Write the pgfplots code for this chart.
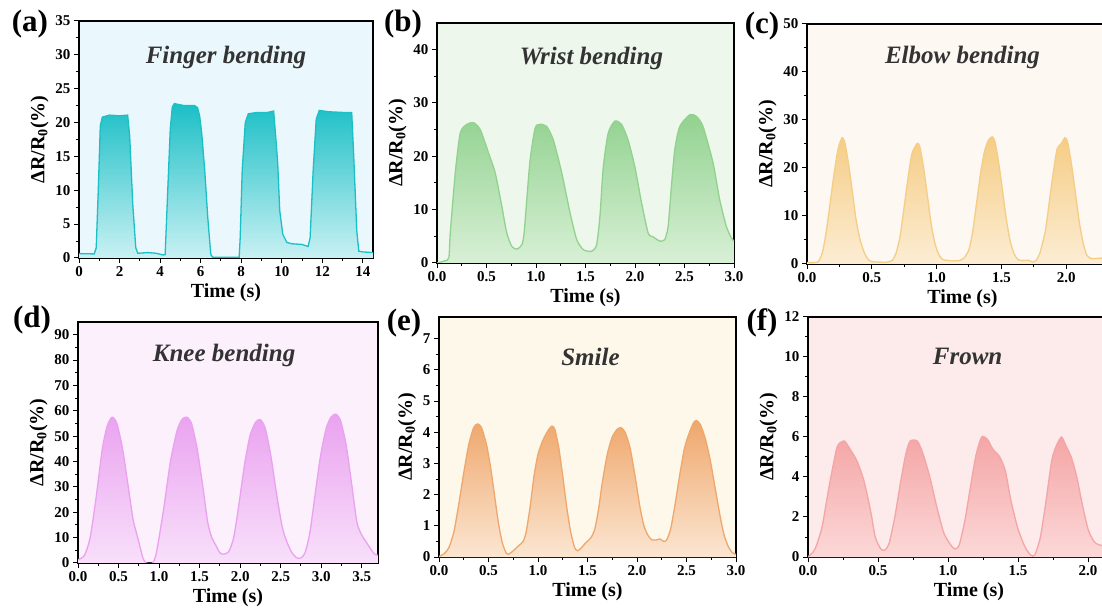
\documentclass[border=0pt]{standalone}
\usepackage{fontspec}
\setmainfont{Liberation Serif}
\usepackage{pgfplots}
\usepackage{pgfplotstable}
\pgfplotsset{compat=1.18}

\definecolor{bgA}{HTML}{EAF7FC}\definecolor{lnA}{HTML}{1BBFC6}\definecolor{fA}{HTML}{C9F1F3}
\definecolor{bgB}{HTML}{EDF7EC}\definecolor{lnB}{HTML}{92D28F}\definecolor{fB}{HTML}{D8F0D6}
\definecolor{bgC}{HTML}{FDF8F2}\definecolor{lnC}{HTML}{F5CD85}\definecolor{fC}{HTML}{FCEDD4}
\definecolor{bgD}{HTML}{FCF0FC}\definecolor{lnD}{HTML}{EAA2F0}\definecolor{fD}{HTML}{F8E0FA}
\definecolor{bgE}{HTML}{FDF8E9}\definecolor{lnE}{HTML}{EFA76C}\definecolor{fE}{HTML}{FBE6D2}
\definecolor{bgF}{HTML}{FDEBEB}\definecolor{lnF}{HTML}{F4A5A5}\definecolor{fF}{HTML}{FCD8D8}
\definecolor{titlegray}{HTML}{333333}

% finger
\pgfplotstableread{
t v
0 0.65
0.75 0.6
0.85 1.5
0.95 10
1.05 19.5
1.15 20.8
1.5 21.1
2.0 21.0
2.4 21.1
2.5 18
2.65 8
2.8 1.5
2.9 0.7
3.4 0.8
3.8 0.7
4.15 0.45
4.25 0.5
4.35 8
4.5 19
4.6 22.3
4.7 22.8
5.2 22.5
5.7 22.5
5.85 22.2
5.95 21.0
6.05 18.5
6.2 13
6.35 6
6.5 0.5
6.6 0.1
7.9 0.1
7.95 3
8.05 13
8.2 20
8.35 21.3
8.8 21.5
9.3 21.5
9.6 21.7
9.7 18
9.8 14
9.9 7
10.05 3.5
10.25 2.3
10.5 2.1
11.0 2.0
11.3 1.7
11.4 3
11.55 13
11.7 20.5
11.85 21.8
12.3 21.6
13.0 21.5
13.45 21.5
13.55 15
13.7 4
13.8 1
14.0 0.9
14.5 0.8
}\dataA

% wrist
\pgfplotstableread{
t v
0 0
0.08 0.4
0.12 1
0.134 5.6
0.185 17
0.235 24.4
0.302 26
0.369 26.3
0.437 25
0.521 20.6
0.588 16.9
0.655 10.6
0.705 5.6
0.756 3.1
0.806 2.6
0.857 3.4
0.880 5.6
0.907 11.9
0.941 19.4
0.991 25.3
1.041 26
1.108 25.6
1.176 23
1.260 16.9
1.344 9.4
1.411 4.4
1.478 2.5
1.562 2.2
1.612 3.4
1.646 8.8
1.680 18.1
1.730 24.4
1.797 26.6
1.864 26
1.931 23
1.999 18
2.066 11.3
2.133 5.6
2.183 4.9
2.251 4.1
2.301 4.4
2.335 6.9
2.368 14.4
2.402 21.3
2.452 25.6
2.553 27.8
2.620 27.5
2.687 25.6
2.788 18.8
2.855 11.9
2.922 6.9
2.973 4.7
3.0 4.1
}\dataB

% elbow
\pgfplotstableread{
t v
0 0.3
0.06 0.3
0.09 0.6
0.12 2.5
0.15 7
0.18 13
0.21 19
0.24 24
0.27 26.3
0.29 25.5
0.32 21
0.35 15
0.38 9
0.41 5
0.44 2.5
0.47 1
0.50 0.5
0.55 0.4
0.62 0.4
0.66 0.8
0.69 2.5
0.72 6
0.75 12
0.78 18
0.81 23
0.85 25.1
0.87 24.5
0.90 20
0.93 14
0.96 8
0.99 4
1.02 1.8
1.05 0.9
1.10 0.7
1.17 0.7
1.21 1.2
1.25 3
1.28 7
1.31 13
1.34 19
1.37 23.5
1.40 25.8
1.43 26.5
1.45 25.5
1.48 21
1.51 15
1.54 9
1.57 4.5
1.60 2
1.63 0.9
1.67 0.7
1.71 0.8
1.74 0.4
1.77 0.8
1.80 2.5
1.84 7
1.87 13
1.90 19
1.93 24
1.96 25
1.99 26.3
2.01 25.5
2.04 21
2.07 15
2.10 9
2.13 4.5
2.16 1.8
2.20 1.1
2.25 1.2
2.35 1.3
}\dataC

% knee
\pgfplotstableread{
t v
0 1.3
0.08 3
0.15 10
0.22 25
0.30 45
0.36 54
0.42 57.5
0.48 55
0.55 45
0.62 30
0.68 17
0.72 12
0.76 7
0.80 2
0.84 0
0.92 0
0.96 3
1.00 10
1.06 22
1.14 40
1.22 52
1.28 56.5
1.34 57.5
1.40 55
1.47 45
1.54 30
1.60 16
1.65 10
1.70 7
1.75 4
1.80 3.5
1.86 4.5
1.92 10
1.98 22
2.05 38
2.12 50
2.19 55.5
2.25 56.5
2.31 53
2.38 42
2.45 27
2.52 14
2.58 8
2.64 4
2.70 2
2.75 2
2.80 4
2.86 12
2.92 26
2.99 42
3.06 53
3.12 57.5
3.18 58.7
3.24 56
3.31 46
3.38 30
3.44 16
3.50 11
3.56 8
3.62 5
3.66 3.5
3.70 3
}\dataD

% smile
\pgfplotstableread{
t v
0 0.02
0.05 0.1
0.10 0.3
0.15 0.8
0.20 1.7
0.25 2.7
0.30 3.6
0.35 4.15
0.39 4.27
0.43 4.15
0.48 3.6
0.52 2.9
0.56 2.0
0.60 1.1
0.64 0.45
0.68 0.12
0.71 0.1
0.75 0.2
0.80 0.35
0.85 0.5
0.88 0.8
0.92 1.6
0.96 2.6
1.00 3.3
1.05 3.75
1.10 4.05
1.14 4.2
1.17 4.1
1.21 3.5
1.25 2.6
1.29 1.6
1.33 0.8
1.37 0.3
1.40 0.2
1.44 0.3
1.48 0.45
1.53 0.6
1.57 0.85
1.61 1.5
1.65 2.4
1.70 3.3
1.75 3.85
1.80 4.1
1.84 4.15
1.88 4.0
1.93 3.5
1.98 2.6
2.03 1.6
2.07 1.0
2.11 0.7
2.15 0.55
2.20 0.55
2.23 0.58
2.27 0.5
2.30 0.55
2.34 0.9
2.38 1.6
2.43 2.6
2.48 3.5
2.53 4.0
2.57 4.3
2.60 4.38
2.64 4.25
2.69 3.8
2.74 3.1
2.79 2.2
2.84 1.3
2.88 0.7
2.92 0.35
2.96 0.15
3.0 0.08
}\dataE

% frown
\pgfplotstableread{
t v
0 0
0.05 0.4
0.10 1.5
0.15 3.5
0.20 5.3
0.22 5.65
0.26 5.8
0.30 5.4
0.35 4.8
0.40 3.8
0.45 2.2
0.48 1.0
0.52 0.4
0.55 0.35
0.58 0.7
0.62 2.0
0.66 3.7
0.70 5.2
0.73 5.8
0.78 5.8
0.82 5.2
0.87 4.0
0.92 2.5
0.97 1.2
1.02 0.6
1.05 0.4
1.08 0.6
1.12 1.8
1.16 3.5
1.20 5.1
1.24 6.0
1.28 5.9
1.32 5.4
1.37 5.0
1.41 4.3
1.45 2.8
1.50 1.4
1.55 0.5
1.59 0.1
1.62 0.1
1.66 1.0
1.70 2.8
1.74 4.8
1.77 5.5
1.81 6.0
1.84 5.6
1.88 5.0
1.92 4.0
1.96 2.6
2.00 1.4
2.04 0.8
2.08 0.6
2.15 0.6
2.30 0.6
}\dataF

\pgfplotsset{
  panel/.style={
    scale only axis, anchor=south west,
    axis line style={line width=1.2pt},
    tick align=outside, xtick pos=bottom, ytick pos=left,
    minor tick num=1,
    major tick length=5pt, minor tick length=3pt,
    tick style={black, line width=1pt},
    tick label style={font=\fontsize{15}{15}\selectfont\bfseries},
    /pgf/number format/assume math mode=true,
    label style={font=\fontsize{20}{20}\selectfont\bfseries},
    xlabel={Time (s)},
    ylabel={ΔR/R\textsubscript{0}(\%)},
    xmin=0, ymin=0,
  },
  dec/.style={xticklabel style={/pgf/number format/.cd,fixed,fixed zerofill,precision=1}},
}
\tikzset{ttl/.style={font=\fontsize{25}{25}\selectfont\bfseries\itshape, text=titlegray}}

% #4: extra plot options (smooth or not)
\newcommand{\curve}[4]{%
  \addplot[draw=none, top color=#2, bottom color=#3, #4] table[x=t,y=v] {#1} \closedcycle;
  \addplot[color=#2, line width=1.3pt, #4] table[x=t,y=v] {#1};
}

\begin{document}
\begin{tikzpicture}[x=1pt,y=1pt]

\begin{axis}[panel, at={(79pt,352pt)}, width=294pt, height=237pt,
  xmax=14.5, ymax=35, xtick={0,2,...,14}, ytick={0,5,...,35},
  axis background/.style={fill=bgA}]
\curve{\dataA}{lnA}{fA}{sharp plot}
\node[ttl] at (rel axis cs:0.5,0.844) {Finger bending};
\end{axis}

\begin{axis}[panel, dec, at={(437pt,347pt)}, width=297pt, height=240pt,
  xmax=3, ymax=45, xtick={0,0.5,...,3}, ytick={0,10,...,40},
  axis background/.style={fill=bgB}]
\curve{\dataB}{lnB}{fB}{smooth, tension=0.4}
\node[ttl] at (rel axis cs:0.52,0.854) {Wrist bending};
\end{axis}

\begin{axis}[panel, dec, at={(807pt,346pt)}, width=311pt, height=240pt,
  xmax=2.4, ymax=50, xtick={0,0.5,...,2.0}, ytick={0,10,...,50},
  axis background/.style={fill=bgC}]
\curve{\dataC}{lnC}{fC}{smooth, tension=0.4}
\node[ttl] at (axis cs:1.2,43) {Elbow bending};
\end{axis}

\begin{axis}[panel, dec, at={(78pt,47pt)}, width=300pt, height=241pt,
  xmax=3.7, ymax=95, xtick={0,0.5,...,3.5}, ytick={0,10,...,90},
  axis background/.style={fill=bgD}]
\curve{\dataD}{lnD}{fD}{smooth, tension=0.4}
\node[ttl] at (rel axis cs:0.487,0.86) {Knee bending};
\end{axis}

\begin{axis}[panel, dec, at={(439pt,53pt)}, width=297pt, height=240pt,
  xmax=3, ymax=7.7, xtick={0,0.5,...,3}, ytick={0,1,...,7},
  axis background/.style={fill=bgE}]
\curve{\dataE}{lnE}{fE}{smooth, tension=0.4}
\node[ttl] at (rel axis cs:0.51,0.833) {Smile};
\end{axis}

\begin{axis}[panel, dec, at={(808pt,53pt)}, width=322pt, height=240pt,
  xmax=2.3, ymax=12, xtick={0,0.5,...,2.0}, ytick={0,2,...,12},
  axis background/.style={fill=bgF}]
\curve{\dataF}{lnF}{fF}{smooth, tension=0.4}
\node[ttl] at (axis cs:1.14,10.05) {Frown};
\end{axis}

\begin{scope}[font=\fontsize{31}{31}\selectfont\bfseries]
\node at (30,586) {(a)};
\node at (403,586) {(b)};
\node at (762,584) {(c)};
\node at (32,290) {(d)};
\node at (404,287) {(e)};
\node at (762,287) {(f)};
\end{scope}

\pgfresetboundingbox
\useasboundingbox (0,0) rectangle (1102,610);
\end{tikzpicture}
\end{document}
